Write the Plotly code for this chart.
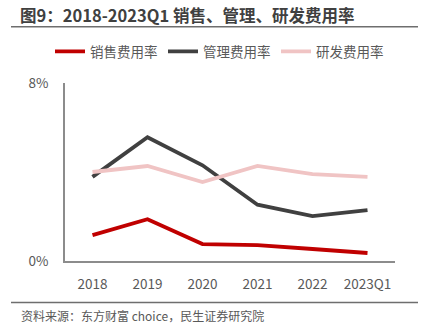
import plotly.graph_objects as go

# Expense ratios (%) by period
periods = ["2018", "2019", "2020", "2021", "2022", "2023Q1"]
selling_ratio = [1.16, 1.88, 0.76, 0.71, 0.54, 0.36]
admin_ratio = [3.78, 5.56, 4.30, 2.53, 2.02, 2.29]
rd_ratio = [4.00, 4.27, 3.55, 4.27, 3.90, 3.78]
y_tick_vals = [0, 8]
y_tick_text = ["0%", "8%"]

W, H = 429, 330
L, R, T, B = 65, 34, 82.5, 68.7
pw, ph = W - L - R, H - T - B


def px_x(x):
    return (x - L) / pw


def px_y(y):
    return (H - B - y) / ph


FONT = "Noto Sans CJK SC, Open Sans, sans-serif"
TXT = "#595959"
CLEAR = "rgba(0,0,0,0)"

fig = go.Figure()
fig.add_trace(go.Scatter(x=periods, y=selling_ratio, name="销售费用率", mode="lines",
                         line=dict(color="#C00000", width=3.8)))
fig.add_trace(go.Scatter(x=periods, y=admin_ratio, name="管理费用率", mode="lines",
                         line=dict(color="#404040", width=3.8)))
fig.add_trace(go.Scatter(x=periods, y=rd_ratio, name="研发费用率", mode="lines",
                         line=dict(color="#F0C4C4", width=3.8)))

fig.update_layout(
    width=W, height=H,
    margin=dict(l=L, r=R, t=T, b=B),
    plot_bgcolor="white", paper_bgcolor="white",
    font=dict(family=FONT, color=TXT, size=13),
    showlegend=True,
    legend=dict(orientation="h", x=px_x(50), y=px_y(51), xanchor="left", yanchor="middle",
                font=dict(size=13.5, color=TXT), itemwidth=30, tracegroupgap=0,
                entrywidth=68, entrywidthmode="pixels",
                bgcolor=CLEAR),
    title=dict(text="<b>图9：2018-2023Q1 销售、管理、研发费用率</b>",
               x=20 / W, xref="container", xanchor="left",
               y=1 - 16 / H, yref="container", yanchor="middle",
               font=dict(size=16.5, color="#404040", family=FONT)),
    xaxis=dict(showgrid=False, showline=True, linecolor="#8C8C8C", linewidth=1.5,
               ticks="outside", ticklen=10, tickcolor=CLEAR,
               tickfont=dict(size=13.5, color=TXT), zeroline=False,
               range=[-0.5, 5.5]),
    yaxis=dict(range=[0, 8], tickvals=y_tick_vals, ticktext=y_tick_text, showgrid=False,
               showline=True, linecolor="#8C8C8C", linewidth=1.5,
               ticks="outside", ticklen=12, tickcolor=CLEAR,
               tickfont=dict(size=13.5, color=TXT), zeroline=False),
)

# Rules above the legend and above the source note
for yy in (26, 303):
    fig.add_shape(type="line", xref="paper", yref="paper",
                  x0=px_x(11), x1=px_x(418), y0=px_y(yy), y1=px_y(yy),
                  line=dict(color="#6E6E6E", width=1.5))

fig.add_annotation(text="资料来源：东方财富 choice，民生证券研究院", xref="paper", yref="paper",
                   x=px_x(19), y=px_y(316), xanchor="left", yanchor="middle",
                   showarrow=False, font=dict(size=12, color=TXT, family=FONT))

fig.write_html("out.html")
